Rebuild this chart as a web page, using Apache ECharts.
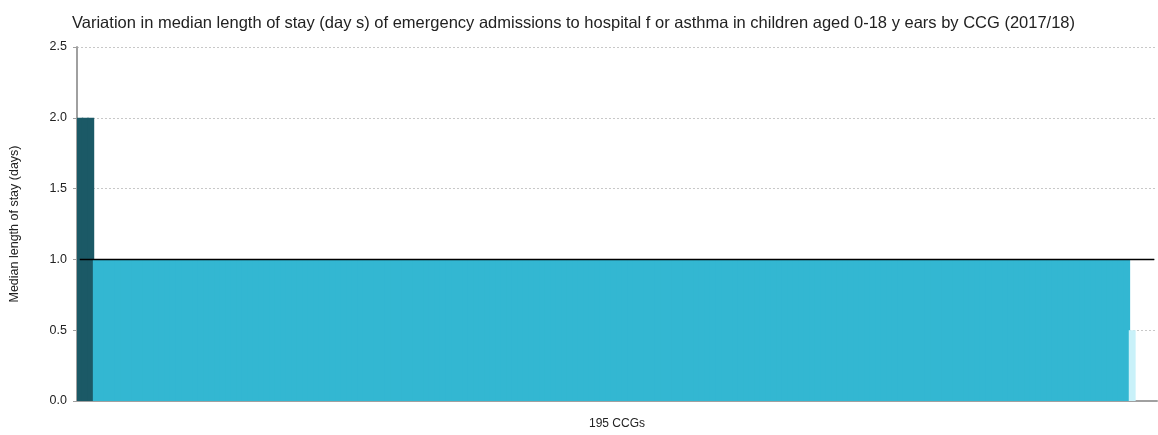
<!DOCTYPE html>
<html>
<head>
<meta charset="utf-8">
<script src="https://cdn.jsdelivr.net/npm/echarts@6/dist/echarts.min.js"></script>
<style>
html,body{margin:0;padding:0;background:#fff;}
#chart{width:1158px;height:435px;}
</style>
</head>
<body>
<div id="chart"></div>
<script>
var titleText = 'Variation in median length of stay (day s) of emergency admissions to hospital f or asthma in children aged 0-18 y ears by CCG (2017/18)';
var yAxisTitle = 'Median length of stay (days)';
var xAxisTitle = '195 CCGs';
var englandValue = 1.0;
var yTicks = [0, 0.5, 1.0, 1.5, 2.0, 2.5];
// median length of stay per CCG, sorted descending (null = not shown)
var ccgValues = [
2,2,2,
1,1,1,1,1,1,1,1,1,1,1,1,1,1,1,1,1,1,1,1,1,1,1,1,1,1,1,1,1,1,1,1,1,1,1,1,1,1,1,1,1,1,1,1,1,1,1,1,1,1,
1,1,1,1,1,1,1,1,1,1,1,1,1,1,1,1,1,1,1,1,1,1,1,1,1,1,1,1,1,1,1,1,1,1,1,1,1,1,1,1,1,1,1,1,1,1,1,1,1,1,
1,1,1,1,1,1,1,1,1,1,1,1,1,1,1,1,1,1,1,1,1,1,1,1,1,1,1,1,1,1,1,1,1,1,1,1,1,1,1,1,1,1,1,1,1,1,1,1,1,1,
1,1,1,1,1,1,1,1,1,1,1,1,1,1,1,1,1,1,1,1,1,1,1,1,1,1,1,1,1,1,1,1,1,1,1,1,1,1,
0.5,
null,null,null,null
];
var categories = ccgValues.map(function(v, i){ return 'CCG ' + (i + 1); });
var englandLine = categories.map(function(){ return englandValue; });

var colHigh = '#1b5966', colSim = '#33b7d2', colLow = '#c9f1f9';

var chart = echarts.init(document.getElementById('chart'), null, {renderer:'canvas'});
chart.setOption({
  animation: false,
  textStyle: {fontFamily: 'Liberation Sans, Arial, sans-serif'},
  title: {
    text: titleText, left: 67, top: 10,
    textStyle: {fontSize: 16.5, fontWeight: 'normal', color: '#222', fontFamily: 'Liberation Sans, Arial, sans-serif'}
  },
  grid: {left: 76, right: 1, top: 47, bottom: 27, containLabel: false},
  xAxis: {
    type: 'category', data: categories,
    name: xAxisTitle, nameLocation: 'middle', nameGap: 17,
    nameTextStyle: {fontSize: 12, color: '#222'},
    axisLine: {lineStyle: {color: '#a0a0a0', width: 2}},
    axisTick: {show: false}, axisLabel: {show: false}
  },
  yAxis: {
    type: 'value', min: 0, max: 2.5, interval: 0.5,
    name: yAxisTitle, nameLocation: 'middle', nameGap: 56, nameRotate: 90,
    nameTextStyle: {fontSize: 12.5, color: '#222'},
    axisLine: {show: true, lineStyle: {color: '#a0a0a0', width: 2}},
    axisTick: {show: true, length: 4, lineStyle: {color: '#a0a0a0'}},
    axisLabel: {fontSize: 12.5, color: '#222', margin: 10, formatter: function(v){ return v.toFixed(1); }},
    splitLine: {show: true, lineStyle: {color: '#c8c8c8', type: [2, 2], width: 1}}
  },
  series: [
    {
      type: 'bar', data: ccgValues.map(function(v){
        if (v === null) return null;
        var c = v > englandValue ? colHigh : (v < englandValue ? colLow : colSim);
        return {value: v, itemStyle: {color: c}};
      }),
      barWidth: '125%', barGap: '-100%'
    },
    {
      type: 'line', data: englandLine, symbol: 'none', z: 5,
      lineStyle: {color: '#000', width: 1.5}
    }
  ]
});
</script>
</body>
</html>
